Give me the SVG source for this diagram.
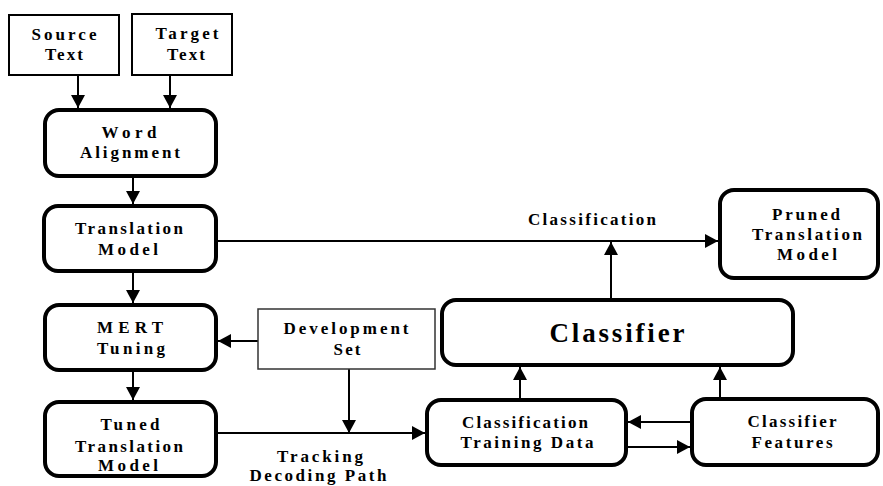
<svg xmlns="http://www.w3.org/2000/svg" width="883" height="486" viewBox="0 0 883 486">
<style>
text{font-family:"Liberation Serif","Times New Roman",Times,Tinos,"Nimbus Roman","Noto Serif","DejaVu Serif",FreeSerif,serif;font-weight:bold;font-size:17px;fill:#000;text-anchor:middle}
.rb{fill:#fff;stroke:#000;stroke-width:4}
.sq{fill:#fff;stroke:#000;stroke-width:2}
.dev{fill:#fff;stroke:#333;stroke-width:1.5}
.c{fill:none;stroke:#000;stroke-width:2}
.big{font-size:27px}
</style>
<defs>
<marker id="ah" markerUnits="userSpaceOnUse" markerWidth="15" markerHeight="15" refX="13" refY="7" orient="auto">
<path d="M0,0 L13,7 L0,14 z" fill="#000"/>
</marker>
</defs>
<rect width="883" height="486" fill="#fff"/>
<g id="connectors">
<path class="c" d="M78 75 V108" marker-end="url(#ah)"/>
<path class="c" d="M170 75 V108" marker-end="url(#ah)"/>
<path class="c" d="M133 178 V204" marker-end="url(#ah)"/>
<path class="c" d="M218 241 H718" marker-end="url(#ah)"/>
<path class="c" d="M133 273 V303" marker-end="url(#ah)"/>
<path class="c" d="M258 341 H218" marker-end="url(#ah)"/>
<path class="c" d="M133 372 V400" marker-end="url(#ah)"/>
<path class="c" d="M218 433 H425" marker-end="url(#ah)"/>
<path class="c" d="M349 369 V433" marker-end="url(#ah)"/>
<path class="c" d="M611 298 V242" marker-end="url(#ah)"/>
<path class="c" d="M520 398 V367" marker-end="url(#ah)"/>
<path class="c" d="M720 397 V367" marker-end="url(#ah)"/>
<path class="c" d="M690 422 H628" marker-end="url(#ah)"/>
<path class="c" d="M628 447 H690" marker-end="url(#ah)"/>
<text x="592" y="225" textLength="128" lengthAdjust="spacing">Classification</text>
<text x="320" y="462" textLength="86" lengthAdjust="spacing">Tracking</text>
<text x="318" y="481" textLength="137" lengthAdjust="spacing">Decoding Path</text>
</g>
<g id="source">
<rect class="sq" x="9" y="15" width="110" height="60"/>
<text x="64" y="40" textLength="65" lengthAdjust="spacing">Source</text>
<text x="64" y="60" textLength="38" lengthAdjust="spacing">Text</text>
</g>
<g id="target">
<rect class="sq" x="132" y="14" width="100" height="61"/>
<text x="187" y="39" textLength="63" lengthAdjust="spacing">Target</text>
<text x="186" y="60" textLength="38" lengthAdjust="spacing">Text</text>
</g>
<g id="word">
<rect class="rb" x="45" y="110" width="171" height="66" rx="14"/>
<text x="129" y="138" textLength="55" lengthAdjust="spacing">Word</text>
<text x="130" y="158" textLength="100" lengthAdjust="spacing">Alignment</text>
</g>
<g id="tm">
<rect class="rb" x="44" y="206" width="172" height="65" rx="14"/>
<text x="129" y="234" textLength="108" lengthAdjust="spacing">Translation</text>
<text x="128" y="255" textLength="60" lengthAdjust="spacing">Model</text>
</g>
<g id="mert">
<rect class="rb" x="45" y="305" width="171" height="65" rx="14"/>
<text x="130" y="333" textLength="66" lengthAdjust="spacing">MERT</text>
<text x="131" y="354" textLength="68" lengthAdjust="spacing">Tuning</text>
</g>
<g id="tuned">
<rect class="rb" x="45" y="402" width="171" height="74" rx="14"/>
<text x="130" y="430" textLength="59" lengthAdjust="spacing">Tuned</text>
<text x="129" y="452" textLength="108" lengthAdjust="spacing">Translation</text>
<text x="128" y="471" textLength="60" lengthAdjust="spacing">Model</text>
</g>
<g id="dev">
<rect class="dev" x="258" y="309" width="177" height="60"/>
<text x="346" y="334" textLength="125" lengthAdjust="spacing">Development</text>
<text x="347" y="355" textLength="27" lengthAdjust="spacing">Set</text>
</g>
<g id="pruned">
<rect class="rb" x="720" y="190" width="158" height="88" rx="14"/>
<text x="806" y="220" textLength="68" lengthAdjust="spacing">Pruned</text>
<text x="807" y="240" textLength="110" lengthAdjust="spacing">Translation</text>
<text x="807" y="260" textLength="60" lengthAdjust="spacing">Model</text>
</g>
<g id="classifier">
<rect class="rb" x="442" y="300" width="351" height="65" rx="14"/>
<text class="big" x="617" y="342" textLength="135" lengthAdjust="spacing">Classifier</text>
</g>
<g id="ctd">
<rect class="rb" x="427" y="400" width="199" height="65" rx="14"/>
<text x="525" y="428" textLength="126" lengthAdjust="spacing">Classification</text>
<text x="527" y="448" textLength="133" lengthAdjust="spacing">Training Data</text>
</g>
<g id="cf">
<rect class="rb" x="692" y="399" width="186" height="66" rx="14"/>
<text x="792" y="427" textLength="89" lengthAdjust="spacing">Classifier</text>
<text x="792" y="448" textLength="81" lengthAdjust="spacing">Features</text>
</g>
</svg>
